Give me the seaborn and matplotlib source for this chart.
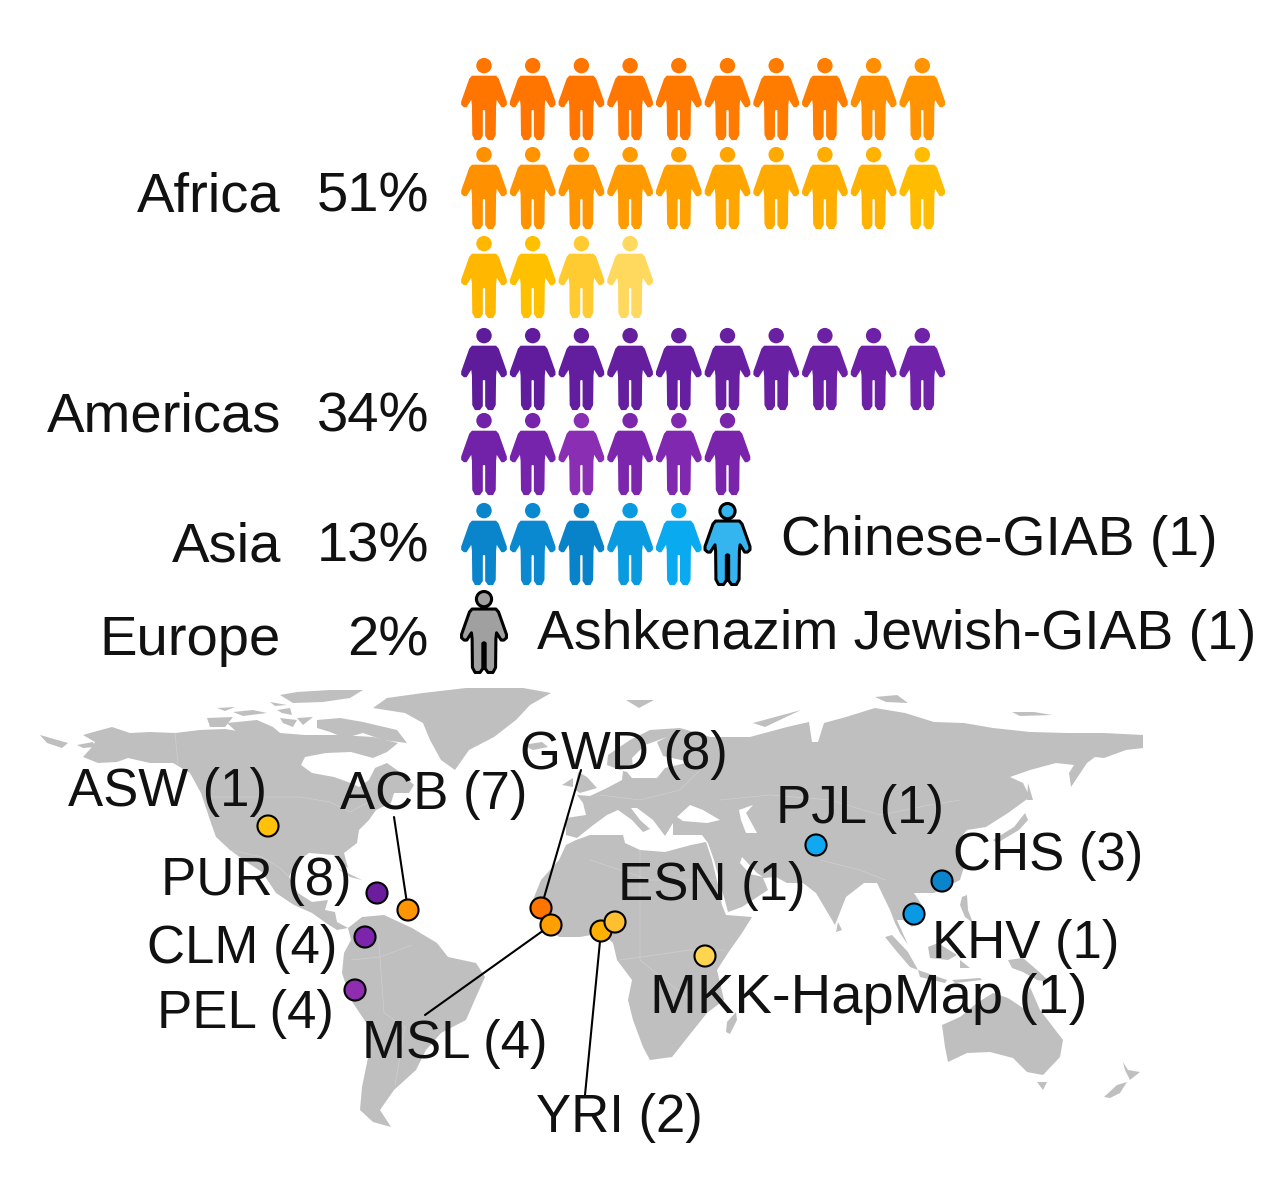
"""Pictogram of samples per region, above a world map of the sampled populations."""

import numpy as np
import pandas as pd
import matplotlib
matplotlib.use("Agg")
import matplotlib.pyplot as plt
from matplotlib.path import Path
import seaborn as sns

# Pictogram data
regions = ["Africa", "Americas", "Asia", "Europe"]
region_percent = [51, 34, 13, 2]
region_people = [24, 16, 6, 1]
africa_colours = ["#FF7500", "#FF7500", "#FF7500", "#FF7600", "#FF7800", "#FF7A00", "#FF7C00", "#FF7E00",
                  "#FF8E00", "#FF9300", "#FF9000", "#FF9300", "#FF9500", "#FF9A00", "#FFA000", "#FFA500",
                  "#FFAA00", "#FFAE00", "#FFB300", "#FFBC00", "#FFB700", "#FFC000", "#FFCB30", "#FFD85E"]
americas_colours = ["#5E1C9A", "#601C9C", "#621E9E", "#641E9E", "#661FA0", "#681FA0", "#6A20A2", "#6C20A4",
                    "#6E20A6", "#7022A8", "#7222A8", "#7624AC", "#8A2EB4", "#7C26AE", "#8028B0", "#7A24AC"]
asia_colours = ["#0A85CC", "#0A88D0", "#0882C8", "#0A9AE0", "#0AAAF0", "#35B5F0"]
europe_colours = ["#A0A0A0"]
outlined_labels = {"Asia": "Chinese-GIAB (1)", "Europe": "Ashkenazim Jewish-GIAB (1)"}

# Populations on the map
site_names = ["ASW (1)", "PUR (8)", "ACB (7)", "CLM (4)", "PEL (4)", "GWD (8)", "MSL (4)",
              "YRI (2)", "ESN (1)", "MKK-HapMap (1)", "PJL (1)", "CHS (3)", "KHV (1)"]
site_x = [268, 377, 408, 365, 355, 541, 551, 601, 615, 705, 816, 942, 914]
site_y = [826, 893, 910, 937, 990, 908, 925, 931, 922, 956, 845, 881, 914]
site_colours = ["#FFC10A", "#6A1E9E", "#FF9500", "#7C24AC", "#8E2DB0", "#FF7500", "#FFA000",
                "#FFB000", "#FFC030", "#FFD54F", "#10A8F0", "#0A85CC", "#0A9AE5"]

north_america = [(83, 735), (90, 733), (112, 727), (130, 733), (150, 732), (175, 733), (200, 730), (225, 729),
                 (250, 733), (280, 733), (305, 735), (340, 735), (373, 737), (398, 743), (387, 752), (373, 758),
                 (351, 752), (326, 753), (305, 757), (301, 765), (312, 773), (334, 777), (348, 782), (359, 787),
                 (369, 780), (375, 768), (387, 763), (401, 773), (414, 785), (409, 793), (394, 793), (391, 803),
                 (376, 810), (369, 820), (359, 830), (357, 843), (344, 853), (348, 868), (340, 863), (334, 855),
                 (309, 853), (296, 862), (289, 877), (298, 893), (312, 902), (328, 900), (325, 910), (335, 912),
                 (337, 922), (348, 928), (337, 930), (326, 923), (312, 913), (294, 905), (276, 893), (262, 872),
                 (248, 863), (230, 850), (216, 837), (210, 820), (201, 793), (190, 773), (173, 763), (150, 763),
                 (128, 758), (117, 762), (98, 763), (83, 757), (92, 747), (95, 742)]
south_america = [(348, 928), (362, 917), (384, 915), (412, 928), (437, 943), (448, 957), (476, 963), (485, 977),
                 (476, 997), (466, 1020), (441, 1033), (426, 1050), (416, 1070), (394, 1090), (380, 1110),
                 (391, 1127), (373, 1122), (360, 1110), (362, 1087), (369, 1053), (369, 1027), (351, 1000),
                 (342, 973), (344, 953), (351, 940)]
greenland = [(373, 708), (387, 698), (423, 693), (466, 688), (523, 688), (551, 693), (530, 705), (516, 720),
             (494, 737), (469, 750), (455, 770), (441, 760), (430, 740), (423, 723), (405, 713)]
eurasia = [(566, 835), (566, 818), (586, 815), (583, 803), (577, 795), (590, 796), (607, 788), (622, 780),
           (623, 771), (627, 772), (632, 778), (657, 778), (665, 768), (690, 762), (663, 756), (657, 742),
           (667, 737), (645, 745), (632, 758), (633, 768), (620, 770), (607, 765), (608, 755), (630, 740),
           (650, 730), (680, 728), (697, 733), (710, 737), (723, 737), (750, 737), (787, 727), (809, 722),
           (812, 742), (818, 742), (824, 723), (846, 717), (875, 708), (905, 713), (934, 722), (964, 723),
           (993, 728), (1030, 732), (1067, 733), (1104, 733), (1143, 735), (1143, 748), (1126, 750),
           (1104, 758), (1095, 757), (1087, 763), (1071, 787), (1069, 773), (1074, 765), (1056, 763),
           (1030, 770), (1010, 777), (1023, 783), (1030, 797), (1008, 813), (986, 827), (967, 830), (956, 843),
           (964, 867), (960, 880), (934, 893), (914, 893), (925, 910), (912, 927), (903, 920), (897, 920),
           (908, 945), (900, 933), (895, 923), (890, 910), (877, 883), (864, 883), (846, 897), (835, 925),
           (816, 893), (803, 883), (787, 883), (776, 877), (763, 878), (768, 890), (742, 907), (728, 912),
           (722, 890), (714, 860), (708, 843), (702, 835), (673, 835), (673, 823), (665, 836), (653, 820),
           (637, 808), (631, 808), (640, 820), (650, 829), (643, 832), (632, 820), (618, 810), (607, 815),
           (592, 826), (577, 838)]
africa = [(559, 937), (541, 920), (530, 907), (541, 880), (559, 860), (566, 845), (576, 840), (590, 835),
          (623, 835), (625, 843), (640, 850), (665, 852), (691, 845), (706, 842), (712, 860), (718, 885),
          (722, 905), (726, 915), (752, 917), (742, 933), (728, 953), (717, 970), (724, 1000), (707, 1013),
          (691, 1033), (672, 1057), (650, 1060), (643, 1047), (633, 1020), (628, 1000), (632, 980), (617, 960),
          (613, 943), (602, 933), (580, 937)]
australia = [(942, 1025), (960, 1017), (977, 1003), (993, 993), (1008, 998), (1023, 1008), (1030, 987),
             (1040, 1010), (1063, 1040), (1060, 1057), (1043, 1075), (1027, 1072), (1013, 1058), (990, 1052),
             (967, 1053), (948, 1062), (945, 1047)]
islands = [
    [(40, 735), (68, 743), (62, 748), (47, 743)],
    [(77, 745), (93, 742), (95, 747), (83, 748)],
    [(207, 718), (233, 717), (225, 727), (210, 727)],
    [(227, 723), (257, 720), (273, 727), (280, 733), (257, 737), (240, 735)],
    [(217, 708), (235, 707), (225, 711)],
    [(233, 712), (253, 710), (267, 713), (243, 716)],
    [(277, 710), (290, 708), (292, 715), (282, 713)],
    [(280, 718), (297, 720), (293, 727), (283, 723)],
    [(297, 718), (313, 717), (303, 725)],
    [(317, 720), (340, 718), (363, 722), (397, 730), (407, 743), (383, 740), (363, 733), (345, 738), (330, 732),
     (317, 728)],
    [(280, 695), (297, 692), (330, 690), (363, 690), (350, 698), (323, 702), (293, 703)],
    [(270, 702), (287, 705), (275, 706)],
    [(337, 868), (362, 880), (350, 877)],
    [(523, 745), (542, 742), (548, 747), (533, 750)],
    [(578, 772), (587, 777), (597, 788), (580, 793), (575, 790)],
    [(562, 785), (573, 778), (573, 787)],
    [(736, 1012), (737, 1020), (730, 1034), (726, 1032), (727, 1022)],
    [(753, 723), (801, 710), (765, 727)],
    [(1028, 783), (1033, 800), (1027, 800)],
    [(1025, 813), (1028, 820), (1019, 830), (997, 843), (993, 840), (1014, 827)],
    [(962, 897), (967, 895), (968, 910), (973, 923), (965, 917), (960, 905)],
    [(885, 937), (892, 935), (908, 952), (918, 970), (910, 967), (898, 953)],
    [(918, 970), (947, 980), (945, 983), (920, 977)],
    [(928, 947), (938, 943), (957, 955), (948, 960), (930, 958)],
    [(960, 960), (970, 968), (960, 968)],
    [(1008, 960), (1023, 958), (1037, 970), (1050, 982), (1037, 980), (1023, 972), (1012, 968)],
    [(952, 980), (980, 978), (982, 980), (955, 983)],
    [(1037, 1082), (1047, 1082), (1043, 1090)],
    [(1123, 1062), (1128, 1070), (1140, 1072), (1130, 1080), (1125, 1070)],
    [(1127, 1082), (1120, 1093), (1110, 1098), (1104, 1097), (1117, 1085)],
    [(838, 922), (842, 930), (836, 932)],
    [(626, 700), (654, 700), (639, 708)],
    [(875, 697), (897, 695), (908, 703), (886, 702)],
    [(1012, 712), (1034, 712), (1052, 715), (1020, 716)],
]
inland_seas = [
    [(677, 817), (690, 805), (703, 810), (720, 820), (707, 823), (683, 821)],
    [(739, 810), (753, 805), (746, 813), (757, 833), (746, 833), (741, 820)],
    [(742, 857), (757, 873), (763, 877), (750, 874), (740, 863)],
]
borders = [
    [(205, 797), (300, 797), (330, 802), (350, 812), (372, 800)],
    [(230, 850), (262, 857), (280, 868), (289, 877)],
    [(175, 733), (178, 765)],
    [(378, 933), (380, 957), (384, 1013), (405, 1027), (395, 1085)],
    [(351, 960), (380, 957), (412, 945)],
    [(720, 800), (770, 795), (830, 800), (880, 815), (930, 805), (960, 800)],
    [(820, 860), (860, 870), (885, 880)],
    [(600, 795), (640, 800), (680, 790), (700, 770)],
    [(590, 860), (650, 880), (690, 880), (716, 880)],
    [(640, 850), (640, 960), (690, 1000)],
    [(620, 960), (690, 950), (725, 950)],
]

# Text placed by hand, as in the reference
site_label_x = [68, 161, 340, 147, 157, 520, 362, 536, 618, 650, 776, 953, 932]
site_label_y = [806, 895, 809, 963, 1028, 769, 1058, 1132, 900, 1013, 823, 870, 958]
region_label_y = [212, 431, 562, 655]
leader_sites = ["ACB (7)", "GWD (8)", "MSL (4)", "YRI (2)"]
leader_x = [394, 581, 425, 585]
leader_y = [817, 770, 1015, 1095]

# Pictogram layout
column_start = 484
column_step = 48.7
row_y = [99, 188, 277, 369, 454, 544, 632]
per_row = 10
LAND = "#BFBFBF"
REGION_TEXT = 40.5
GIAB_TEXT = 39.8
SITE_TEXT = 38
WIDE_SITE_TEXT = 40.5


def person_marker():
    """Standing figure as one closed path, 2 units high."""
    half = [(0, 78), (36, 78), (44, 87), (68, 155), (68, 165), (60, 172), (52, 172),
            (38, 150), (36, 168), (35, 255), (27, 270), (12, 270), (3.5, 258), (3.5, 182), (0, 180)]
    side = np.array(half, dtype=float)
    mirrored = side[::-1][1:-1] * [-1, 1]
    body = np.vstack([side, mirrored, side[:1]])
    body = np.column_stack([body[:, 0], 147.5 - body[:, 1]]) / 122.5
    body_path = Path(body, closed=True)
    head_path = Path.circle((0, 99.5 / 122.5), 23 / 122.5)
    return Path.make_compound_path(head_path, body_path)


def build_people():
    """One row per figure, filling each region's rows left to right."""
    colour_lists = [africa_colours, americas_colours, asia_colours, europe_colours]
    records = []
    row = 0
    for region, count, colours in zip(regions, region_people, colour_lists):
        for i in range(count):
            records.append(dict(
                region=region,
                x=column_start + (i % per_row) * column_step,
                y=row_y[row + i // per_row],
                colour=colours[i],
                outlined=(i == count - 1 and region in outlined_labels),
            ))
        row += (count - 1) // per_row + 1
    return pd.DataFrame(records)


sns.set_theme(style="white")
plt.rcParams["font.family"] = ["Liberation Sans", "DejaVu Sans"]

fig = plt.figure(figsize=(12.8, 11.94), dpi=100)
ax = fig.add_axes([0, 0, 1, 1])
ax.set_xlim(0, 1280)
ax.set_ylim(1194, 0)
ax.axis("off")

# Map
for shape in [north_america, south_america, greenland, eurasia, africa, australia] + islands:
    xs, ys = zip(*shape)
    ax.fill(xs, ys, color=LAND, lw=0, zorder=1)
for shape in inland_seas:
    xs, ys = zip(*shape)
    ax.fill(xs, ys, color="white", lw=0, zorder=1.1)
for line in borders:
    xs, ys = zip(*line)
    ax.plot(xs, ys, color="#CFCFCF", lw=0.5, zorder=1.2)

# Leader lines run from the label to the population's point
for name, x0, y0 in zip(leader_sites, leader_x, leader_y):
    i = site_names.index(name)
    ax.plot([x0, site_x[i]], [y0, site_y[i]], color="black", lw=1.5, zorder=2)

sites = pd.DataFrame(dict(name=site_names, x=site_x, y=site_y, colour=site_colours))
sns.scatterplot(data=sites, x="x", y="y", hue="colour", palette={c: c for c in site_colours},
                s=230, edgecolor="black", linewidth=1.5, legend=False, ax=ax, zorder=3)

for name, x, y in zip(site_names, site_label_x, site_label_y):
    size = WIDE_SITE_TEXT if name.startswith("MKK") else SITE_TEXT
    ax.text(x, y, name, fontsize=size, color="#111111", ha="left", va="baseline", zorder=4)

# Pictogram
people = build_people()
person = person_marker()
plain = people[~people["outlined"]]
marked = people[people["outlined"]]
sns.scatterplot(data=plain, x="x", y="y", hue="colour", palette={c: c for c in plain["colour"]},
                marker=person, s=3500, linewidth=0, legend=False, ax=ax, zorder=3)
marked_edge = dict(edgecolor="black", linewidth=2.2)
sns.scatterplot(data=marked, x="x", y="y", hue="colour", palette={c: c for c in marked["colour"]},
                marker=person, s=3400, legend=False, ax=ax, zorder=3, **marked_edge)

for region, percent, y in zip(regions, region_percent, region_label_y):
    ax.text(281, y, region, fontsize=REGION_TEXT, color="#111111", ha="right", va="baseline")
    ax.text(429, y, f"{percent}%", fontsize=REGION_TEXT, color="#111111", ha="right", va="baseline")

ax.text(781, 555, outlined_labels["Asia"], fontsize=GIAB_TEXT, color="#111111", va="baseline")
ax.text(537, 649, outlined_labels["Europe"], fontsize=GIAB_TEXT, color="#111111", va="baseline")

ax.set_xlabel("")
ax.set_ylabel("")
fig.savefig("out.png", dpi=100, facecolor="white")
